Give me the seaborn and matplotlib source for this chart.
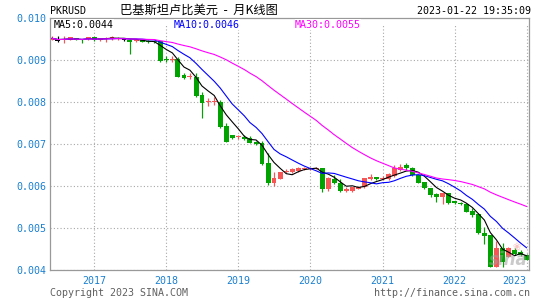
import numpy as np
import pandas as pd
import matplotlib
matplotlib.use("Agg")
import matplotlib.pyplot as plt
import matplotlib.dates as mdates
from matplotlib.patches import Rectangle
import seaborn as sns

# ---------------- data (monthly K-line, PKR/USD) ----------------
months = pd.date_range("2016-06-01", "2023-01-01", freq="MS")

open_ = [0.009476, 0.009457, 0.009476, 0.009476, 0.009531, 0.009493, 0.009493, 0.009555,
         0.009476, 0.009493, 0.009493, 0.009500, 0.009471, 0.009476, 0.009452, 0.009476,
         0.009464, 0.009460, 0.009452, 0.009007, 0.008993, 0.009017, 0.008631, 0.008588,
         0.008602, 0.008167, 0.007993, 0.008000, 0.008007, 0.007429, 0.007214, 0.007160,
         0.007174, 0.007136, 0.007055, 0.007031, 0.006555, 0.006064, 0.006160, 0.006333,
         0.006340, 0.006364, 0.006398, 0.006405, 0.006412, 0.006436, 0.005921, 0.006167,
         0.006079, 0.005888, 0.005888, 0.005929, 0.005969, 0.006174, 0.006221, 0.006174,
         0.006174, 0.006238, 0.006381, 0.006500, 0.006421, 0.006262, 0.006102, 0.005945,
         0.005810, 0.005745, 0.005826, 0.005643, 0.005602, 0.005571, 0.005412, 0.005333,
         0.004888, 0.004833, 0.004079, 0.004517, 0.004317, 0.004476, 0.004436, 0.004357]
high = [0.009579, 0.009579, 0.009579, 0.009555, 0.009531, 0.009493, 0.009555, 0.009555,
        0.009524, 0.009555, 0.009579, 0.009548, 0.009493, 0.009493, 0.009500, 0.009476,
        0.009476, 0.009460, 0.009460, 0.009095, 0.009095, 0.009079, 0.008683, 0.008698,
        0.008683, 0.008245, 0.008088, 0.008126, 0.008048, 0.007493, 0.007214, 0.007214,
        0.007214, 0.007190, 0.007071, 0.007079, 0.006779, 0.006340, 0.006340, 0.006398,
        0.006421, 0.006445, 0.006452, 0.006445, 0.006445, 0.006436, 0.006221, 0.006262,
        0.006160, 0.005969, 0.005983, 0.006000, 0.006183, 0.006286, 0.006221, 0.006238,
        0.006302, 0.006500, 0.006524, 0.006540, 0.006445, 0.006262, 0.006102, 0.005945,
        0.005833, 0.005840, 0.005840, 0.005650, 0.005626, 0.005588, 0.005469, 0.005350,
        0.005017, 0.004833, 0.004690, 0.004636, 0.004555, 0.004517, 0.004476, 0.004381]
low = [0.009469, 0.009436, 0.009398, 0.009476, 0.009469, 0.009412, 0.009476, 0.009464,
       0.009464, 0.009436, 0.009476, 0.009476, 0.009452, 0.009143, 0.009440, 0.009429,
       0.009405, 0.009412, 0.008960, 0.008960, 0.008960, 0.008595, 0.008540, 0.008540,
       0.008126, 0.007612, 0.007905, 0.007929, 0.007374, 0.007048, 0.007119, 0.007112,
       0.007095, 0.007017, 0.006988, 0.006500, 0.006024, 0.006000, 0.006160, 0.006302,
       0.006302, 0.006333, 0.006381, 0.006381, 0.006405, 0.005864, 0.005888, 0.006048,
       0.005864, 0.005864, 0.005864, 0.005917, 0.005945, 0.006143, 0.006143, 0.006143,
       0.006143, 0.006221, 0.006364, 0.006381, 0.006238, 0.006071, 0.005929, 0.005745,
       0.005612, 0.005571, 0.005571, 0.005571, 0.005555, 0.005374, 0.005269, 0.004864,
       0.004619, 0.004079, 0.004079, 0.004079, 0.004302, 0.004357, 0.004333, 0.004238]
close = [0.009517, 0.009457, 0.009500, 0.009540, 0.009469, 0.009469, 0.009555, 0.009476,
         0.009517, 0.009517, 0.009548, 0.009531, 0.009471, 0.009436, 0.009483, 0.009429,
         0.009421, 0.009429, 0.008983, 0.008993, 0.009017, 0.008602, 0.008564, 0.008612,
         0.008143, 0.007983, 0.008017, 0.008024, 0.007398, 0.007055, 0.007150, 0.007183,
         0.007119, 0.007031, 0.007000, 0.006524, 0.006064, 0.006183, 0.006340, 0.006357,
         0.006398, 0.006421, 0.006436, 0.006436, 0.006436, 0.005921, 0.006183, 0.006064,
         0.005888, 0.005921, 0.005969, 0.005983, 0.006183, 0.006221, 0.006174, 0.006198,
         0.006279, 0.006421, 0.006460, 0.006421, 0.006262, 0.006079, 0.005945, 0.005786,
         0.005745, 0.005826, 0.005602, 0.005588, 0.005571, 0.005381, 0.005302, 0.004874,
         0.004817, 0.004079, 0.004517, 0.004198, 0.004517, 0.004381, 0.004357, 0.004238]

years = [2017, 2018, 2019, 2020, 2021, 2022, 2023]
y_ticks = [0.004, 0.005, 0.006, 0.007, 0.008, 0.009, 0.010]
ma_windows = [5, 10, 30]
ma_labels = ["MA5:0.0044", "MA10:0.0046", "MA30:0.0055"]
title = "巴基斯坦卢比美元  -  月K线图"
symbol = "PKRUSD"
timestamp = "2023-01-22 19:35:09"
footer_left = "Copyright 2023 SINA.COM"
footer_right = "http://finance.sina.com.cn"

# ---------------- style ----------------
sns.set_theme(style="white")
plt.rcParams["font.family"] = ["DejaVu Sans Mono", "Noto Sans CJK SC"]

RED = "#f75656"
GREEN = "#00a300"
BLUE_TXT = "#1a80d0"
MA_COLORS = ["#000000", "#0000ff", "#ff00ff"]
MONO = "DejaVu Sans Mono"
FS = 7.2

W, H = 545, 300
fig = plt.figure(figsize=(W / 100, H / 100), dpi=100)
ax = fig.add_axes([50 / W, 30 / H, 479 / W, 252 / H])

df = pd.DataFrame({"date": months, "open": open_, "high": high, "low": low, "close": close})
df["x"] = mdates.date2num(df["date"])

# candles
body_w = 25.0
min_h = 2.4e-5
colors = np.where(df["close"] > df["open"], RED,
                  np.where(df["close"] < df["open"], GREEN, "#000000"))
bottoms = np.minimum(df["open"], df["close"])
heights = np.maximum(np.abs(df["close"] - df["open"]), min_h)
ax.vlines(df["x"], df["low"], df["high"], colors=colors, linewidth=0.85, zorder=2)
ax.bar(df["x"], heights, bottom=bottoms, width=body_w, color=colors,
       edgecolor="none", linewidth=0, zorder=2.2)

# moving averages
for n, c in zip(ma_windows, MA_COLORS):
    ma = df["close"].rolling(n, min_periods=1).mean()
    sns.lineplot(x=df["x"], y=ma, ax=ax, color=c, linewidth=0.8, zorder=3, legend=False)

# axes
ax.set_xlim(mdates.date2num(pd.Timestamp("2016-05-22")),
            mdates.date2num(pd.Timestamp("2023-01-13")))
ax.set_ylim(0.004, 0.010)
xt = mdates.date2num(pd.to_datetime([f"{y}-01-01" for y in years]))
ax.set_xticks(xt)
ax.set_xticklabels([str(y) for y in years])
ax.set_yticks(y_ticks)
ax.set_yticklabels([f"{v:.3f}" for v in y_ticks])
ax.set_xlabel("")
ax.set_ylabel("")
ax.tick_params(axis="both", length=0, labelsize=FS, labelcolor=BLUE_TXT)
ax.tick_params(axis="x", pad=4)
ax.tick_params(axis="y", pad=2.5)
for lab in ax.get_xticklabels() + ax.get_yticklabels():
    lab.set_fontfamily(MONO)
ax.get_xticklabels()[-1].set_horizontalalignment("right")

ax.set_axisbelow(True)
ax.grid(True, color="#a8a8a8", linestyle=(0, (1, 2)), linewidth=0.8)
for s in ax.spines.values():
    s.set_color("#999999")
    s.set_linewidth(0.9)
    s.set_visible(True)

# white band behind the MA legend row
ax.add_patch(Rectangle((0, 1 - 7.5 / 252), 1, 7.5 / 252, transform=ax.transAxes,
                       facecolor="white", edgecolor="none", zorder=1))


def fx(px):
    return px / W


def fy(py):
    return 1 - py / H


# legend texts
for txt, c, xp in zip(ma_labels, MA_COLORS, [54, 174, 295]):
    fig.text(fx(xp), fy(24.5), txt, color=c, fontsize=FS, family=MONO,
             ha="left", va="center",
             bbox=dict(facecolor="white", edgecolor="none", pad=0.3), zorder=5)

# header
fig.text(fx(50), fy(11), symbol, color="black", fontsize=FS, family=MONO,
         ha="left", va="center")
fig.text(fx(120), fy(10.5), title, color="black", fontsize=8.8,
         family=["Noto Sans CJK SC", "DejaVu Sans"], ha="left", va="center")
fig.text(fx(531), fy(11.5), timestamp, color="black", fontsize=FS, family=MONO,
         ha="right", va="center")

# footer
fig.text(fx(50), fy(293), footer_left, color="#606060", fontsize=FS, family=MONO,
         ha="left", va="center")
fig.text(fx(530), fy(293), footer_right, color="#606060", fontsize=FS, family=MONO,
         ha="right", va="center")

# watermark
ax.text(0.997, 0.04, "sina", transform=ax.transAxes, ha="right", va="center",
        fontsize=12, fontstyle="italic", fontweight="bold", family="DejaVu Sans",
        color="#a0a0a0", alpha=0.55, zorder=4)
ax.text(0.975, 0.09, "❀", transform=ax.transAxes, ha="center", va="center",
        fontsize=7, family="DejaVu Sans", color="#f08080", alpha=0.45, zorder=4)

fig.savefig("out.png", dpi=100, facecolor="white")
